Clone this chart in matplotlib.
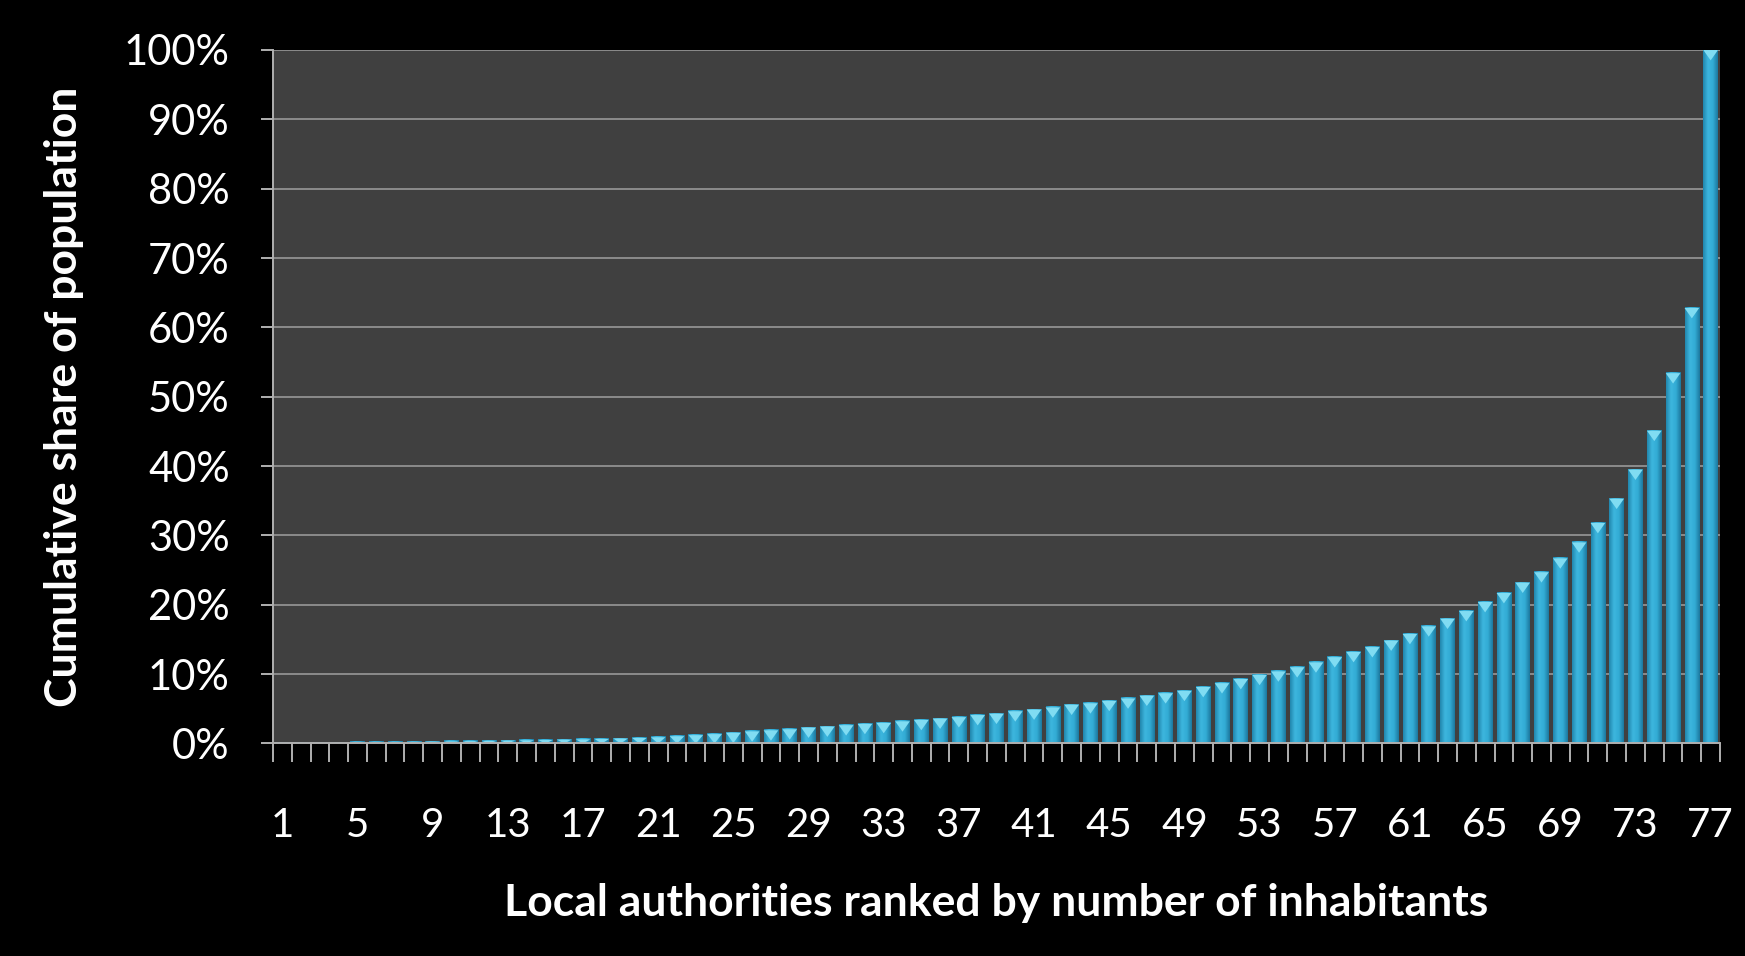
import matplotlib.pyplot as plt
import numpy as np
from matplotlib.colors import LinearSegmentedColormap
from matplotlib.patches import Polygon
from matplotlib.ticker import FixedLocator, PercentFormatter

# cumulative share of population (%) for local authorities ranked 1..77
ranks = list(range(1, 78))
share = [0.05, 0.08, 0.10, 0.12, 0.15, 0.18, 0.20, 0.23, 0.26, 0.30,
         0.34, 0.38, 0.42, 0.46, 0.50, 0.55, 0.60, 0.66, 0.72, 0.80,
         0.90, 1.05, 1.20, 1.35, 1.55, 1.75, 1.90, 2.06, 2.30, 2.45,
         2.64, 2.83, 2.97, 3.20, 3.40, 3.60, 3.80, 4.10, 4.30, 4.65,
         4.90, 5.20, 5.60, 5.80, 6.15, 6.50, 6.90, 7.25, 7.60, 8.15,
         8.70, 9.30, 9.90, 10.4, 11.0, 11.7, 12.45, 13.2, 13.9, 14.85,
         15.8, 16.9, 18.0, 19.1, 20.4, 21.7, 23.2, 24.7, 26.7, 29.0,
         31.8, 35.3, 39.5, 45.1, 53.4, 62.8, 100.0]
label_ranks = ranks[::4]

plt.rcParams['font.family'] = ['Lato', 'DejaVu Sans']

fig = plt.figure(figsize=(17.45, 9.56), dpi=100, facecolor='black')
ax = fig.add_axes([0.1564, 0.2223, 0.8293, 0.7254])
ax.set_facecolor('#404040')

# bars with a horizontal gradient, like the glossy Excel bars
cmap = LinearSegmentedColormap.from_list(
    'bar', ['#2186ad', '#3db6de', '#33acd5', '#1c789e'])
grad = np.linspace(0, 1, 64).reshape(1, -1)
w = 0.78
for x, v in zip(ranks, share):
    ax.imshow(grad, cmap=cmap, extent=(x - w / 2, x + w / 2, 0, v),
              aspect='auto', zorder=3, interpolation='bilinear')
    h = min(1.5, v)
    tri = Polygon([(x - w / 2, v), (x + w / 2, v), (x, v - h)],
                  closed=True, facecolor='#80dcf2', edgecolor='none', zorder=4)
    ax.add_patch(tri)

ax.set_xlim(0.5, 77.5)
ax.set_ylim(0, 100)

ax.yaxis.set_major_locator(FixedLocator(np.arange(0, 101, 10)))
ax.yaxis.set_major_formatter(PercentFormatter(decimals=0))
ax.grid(axis='y', color='#8c8c8c', linewidth=1.4, zorder=1)
ax.set_axisbelow(True)

ax.set_xticks(label_ranks)
ax.set_xticklabels([str(r) for r in label_ranks])
ax.set_xticks(np.arange(0.5, 78, 1), minor=True)
ax.tick_params(axis='x', which='major', length=0, pad=46,
               labelsize=29, labelcolor='white')
ax.tick_params(axis='x', which='minor', length=13.5, width=1.4,
               color='#b0b0b0', direction='out')
ax.tick_params(axis='y', length=9, width=1.4, color='#b0b0b0',
               labelsize=30, labelcolor='white', pad=22)

for s in ['top', 'right']:
    ax.spines[s].set_visible(False)
for s in ['left', 'bottom']:
    ax.spines[s].set_color('#b0b0b0')
    ax.spines[s].set_linewidth(1.4)
    ax.spines[s].set_zorder(5)

ax.set_xlabel('Local authorities ranked by number of inhabitants',
              fontsize=32, fontweight='bold', color='white', labelpad=28)
ax.set_ylabel('Cumulative share of population',
              fontsize=32, fontweight='bold', color='white', labelpad=29)

fig.savefig('out.png', dpi=100, facecolor='black')
